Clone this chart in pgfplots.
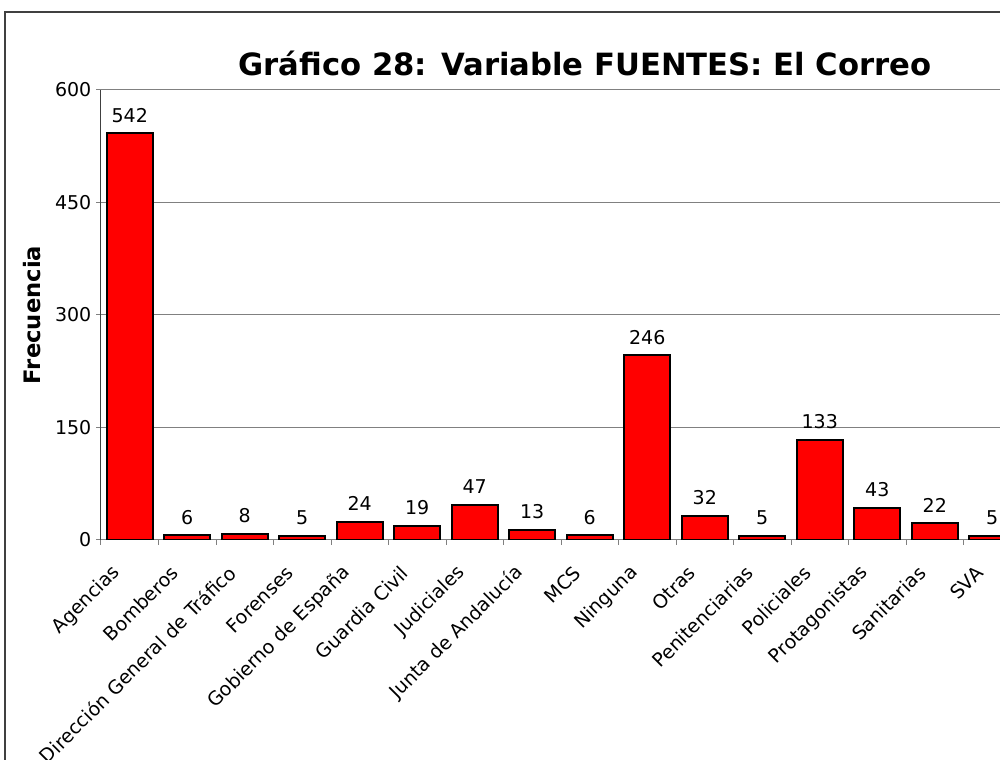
\documentclass[border=0pt]{standalone}
\usepackage{fontspec}
\setmainfont{DejaVu Sans}
\usepackage{pgfplots}
\pgfplotsset{compat=1.18}
\definecolor{barred}{HTML}{FF0000}
\definecolor{gridgray}{HTML}{808080}
\definecolor{framegray}{HTML}{404040}

\begin{document}
\begin{tikzpicture}[x=0.75pt,y=0.75pt]
% the reference is a crop of a larger chart
\path[use as bounding box] (0,0) rectangle (1000,760);
\clip (0,0) rectangle (1000,760);
\draw[framegray, line width=1.5pt] (5,-5) -- (5,748) -- (1010,748);
\begin{axis}[
    at={(75.75pt,165pt)}, anchor=south west,
    scale only axis, width=690pt, height=337.5pt,
    xmin=-0.5, xmax=15.5, ymin=0, ymax=600,
    ybar, bar width=34.5pt,
    ytick={0,150,...,600},
    xtick={0,...,15},
    xticklabels={Agencias,Bomberos,Dirección General de Tráfico,Forenses,
        Gobierno de España,Guardia Civil,Judiciales,Junta de Andalucía,MCS,
        Ninguna,Otras,Penitenciarias,Policiales,Protagonistas,Sanitarias,SVA},
    minor xtick={-0.5,0.5,...,15.5},
    major x tick style={draw=none},
    tick align=outside,
    major tick length=3.75pt, minor tick length=3.75pt,
    tick style={gridgray, line width=0.75pt},
    axis lines*=left,
    x axis line style={gridgray, line width=0.75pt},
    y axis line style={framegray, line width=0.75pt},
    ymajorgrids,
    major grid style={gridgray, line width=0.75pt},
    /pgf/number format/assume math mode=true,
    tick label style={font=\fontsize{14.25}{17}\selectfont},
    xticklabel style={xshift=-7pt, yshift=-16pt, rotate=45, anchor=east},
    title={Gráfico 28: Variable FUENTES: El Correo},
    title style={font=\bfseries\fontsize{23}{27}\selectfont,
        at={(0.526,1)}, anchor=base, yshift=5pt},
    ylabel={Frecuencia},
    ylabel style={font=\bfseries\fontsize{17}{20}\selectfont,
        at={(-0.075,0.5)}, anchor=center},
    nodes near coords,
    nodes near coords style={font=\fontsize{14.25}{17}\selectfont,
        anchor=base, inner sep=0pt, yshift=8.6pt, black},
]
\addplot[fill=barred, draw=black, line width=1.5pt] coordinates {
    (0,542) (1,6) (2,8) (3,5) (4,24) (5,19) (6,47) (7,13)
    (8,6) (9,246) (10,32) (11,5) (12,133) (13,43) (14,22) (15,5)};
\end{axis}
\end{tikzpicture}
\end{document}
